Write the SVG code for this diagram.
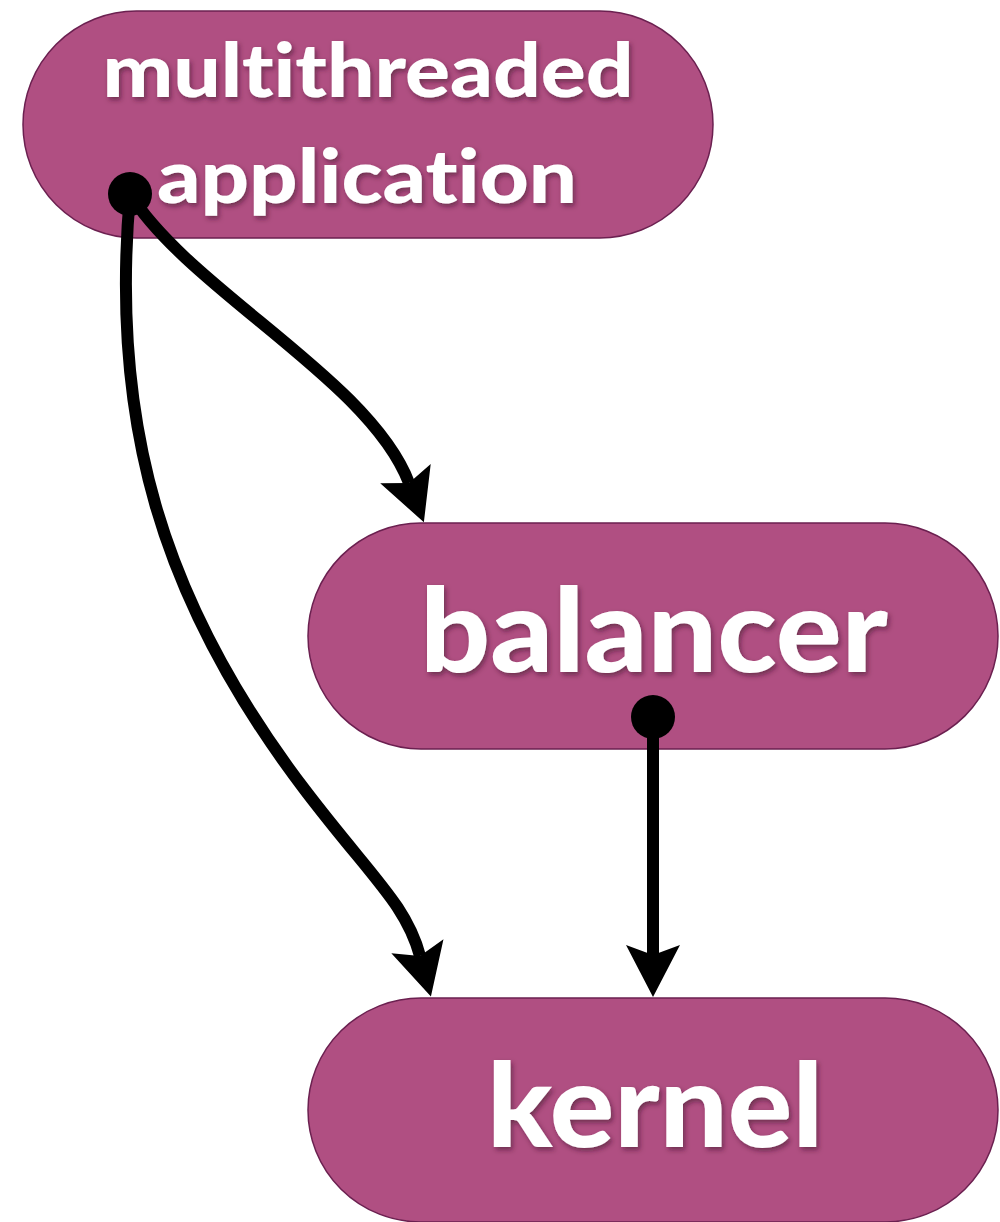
<svg xmlns="http://www.w3.org/2000/svg" width="1000" height="1222" viewBox="0 0 1000 1222">
  <style>
    .node { fill: #B04F82; stroke: #6B2050; stroke-width: 1.5; }
    .label { font-family: Lato, "Liberation Sans", sans-serif; font-weight: 900; fill: #FFFFFF; text-anchor: middle; filter: url(#shadow); font-variant-ligatures: none; }
    .edge { fill: none; stroke: #000000; stroke-width: 12; }
    .dot { fill: #000000; }
  </style>
  <defs>
    <filter id="shadow" x="-10%" y="-20%" width="120%" height="150%">
      <feDropShadow dx="2" dy="3" stdDeviation="2.5" flood-color="#3A0A28" flood-opacity="0.55"/>
    </filter>
    <marker id="arrow" markerUnits="userSpaceOnUse" viewBox="-20 -32 70 64" markerWidth="70" markerHeight="64" refX="0" refY="0" orient="auto" overflow="visible">
      <path d="M42,0 L-10,-27 L0,0 L-10,27 Z" fill="#000000"/>
    </marker>
  </defs>

  <g id="node-app">
    <rect class="node" x="23" y="11" width="690" height="227" rx="113.5" ry="113.5"/>
    <text class="label" x="368" y="97" font-size="74" textLength="531" lengthAdjust="spacingAndGlyphs">multithreaded</text>
    <text class="label" x="367" y="203" font-size="74" textLength="420" lengthAdjust="spacingAndGlyphs">application</text>
  </g>
  <g id="node-balancer">
    <rect class="node" x="308" y="523" width="690" height="226" rx="113" ry="113"/>
    <text class="label" x="654" y="672" font-size="117" textLength="468" lengthAdjust="spacingAndGlyphs">balancer</text>
  </g>
  <g id="node-kernel">
    <rect class="node" x="308" y="998" width="690" height="224" rx="113" ry="113"/>
    <text class="label" x="655" y="1147" font-size="117" textLength="336" lengthAdjust="spacingAndGlyphs">kernel</text>
  </g>

  <g id="connectors">
    <path class="edge" d="M130,194 C190,290 370,380 409,483" marker-end="url(#arrow)"/>
    <path class="edge" d="M130,194 C110,420 160,600 305,790 C372,878 406,904 420,956" marker-end="url(#arrow)"/>
    <path class="edge" d="M653,717 L653,955" marker-end="url(#arrow)"/>
    <circle class="dot" cx="130" cy="194" r="22"/>
    <circle class="dot" cx="653" cy="717" r="22"/>
  </g>
</svg>
